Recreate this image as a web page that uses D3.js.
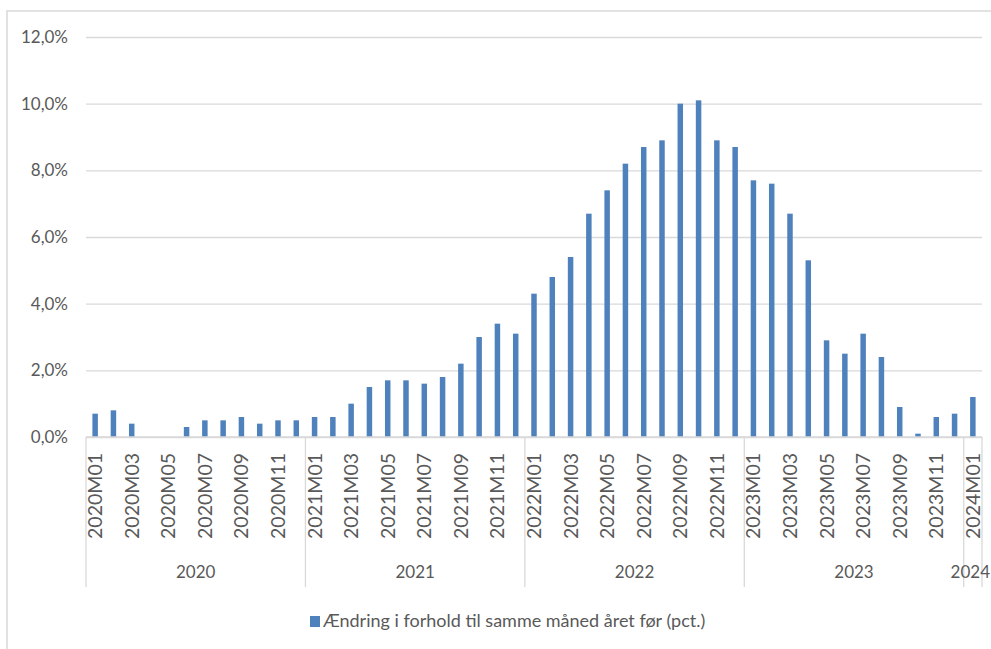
<!DOCTYPE html>
<html>
<head>
<meta charset="utf-8">
<script src="https://cdn.jsdelivr.net/npm/d3@7"></script>
<style>
  body { margin: 0; background: #fff; }
  svg { display: block; font-family: Lato, "Open Sans", sans-serif; }
</style>
</head>
<body>
<div id="vis"></div>
<script>
// frame
const FRAME_WIDTH = 991;
const FRAME_HEIGHT = 649;
const MARGINS = {left: 86, right: 9, top: 37, bottom: 212};

// data
const MONTHS = [
  "2020M01","2020M02","2020M03","2020M04","2020M05","2020M06","2020M07","2020M08","2020M09","2020M10","2020M11","2020M12",
  "2021M01","2021M02","2021M03","2021M04","2021M05","2021M06","2021M07","2021M08","2021M09","2021M10","2021M11","2021M12",
  "2022M01","2022M02","2022M03","2022M04","2022M05","2022M06","2022M07","2022M08","2022M09","2022M10","2022M11","2022M12",
  "2023M01","2023M02","2023M03","2023M04","2023M05","2023M06","2023M07","2023M08","2023M09","2023M10","2023M11","2023M12",
  "2024M01"
];
const VALUES = [
  0.7, 0.8, 0.4, 0.0, 0.0, 0.3, 0.5, 0.5, 0.6, 0.4, 0.5, 0.5,
  0.6, 0.6, 1.0, 1.5, 1.7, 1.7, 1.6, 1.8, 2.2, 3.0, 3.4, 3.1,
  4.3, 4.8, 5.4, 6.7, 7.4, 8.2, 8.7, 8.9, 10.0, 10.1, 8.9, 8.7,
  7.7, 7.6, 6.7, 5.3, 2.9, 2.5, 3.1, 2.4, 0.9, 0.1, 0.6, 0.7,
  1.2
];
const YEARS = ["2020", "2021", "2022", "2023", "2024"];
const Y_TICKS = [0, 2, 4, 6, 8, 10, 12];
const LEGEND_LABEL = "Ændring i forhold til samme måned året før (pct.)";

const data = MONTHS.map((m, i) => ({month: m, year: m.slice(0, 4), value: VALUES[i]}));

const svg = d3.select("#vis")
  .append("svg")
    .attr("width", FRAME_WIDTH)
    .attr("height", FRAME_HEIGHT);

const GRID = "#d9d9d9";
const TEXT = "#595959";
const BAR = "#4f81bd";

// outer chart border (cropped)
svg.append("path")
  .attr("d", `M7,${FRAME_HEIGHT} V11 H${FRAME_WIDTH}`)
  .attr("fill", "none")
  .attr("stroke", GRID)
  .attr("stroke-width", 1.5);

const x0 = MARGINS.left;
const x1 = FRAME_WIDTH - MARGINS.right;
const yBase = 437;

// scales
const xBand = d3.scaleBand()
  .domain(MONTHS)
  .range([x0, x1]);

const xBar = d3.scaleBand()
  .domain(MONTHS)
  .range([x0, x1])
  .paddingInner(0.7)
  .paddingOuter(0.35);

const yScale = d3.scaleLinear()
  .domain([0, 12])
  .range([yBase, MARGINS.top]);

// gridlines + y labels
const yAxis = d3.axisLeft(yScale)
  .tickValues(Y_TICKS)
  .tickSize(-(x1 - x0))
  .tickPadding(18)
  .tickFormat(d => d3.format(".1f")(d).replace(".", ",") + "%");

svg.append("g")
  .attr("transform", `translate(${x0}, 0)`)
  .call(yAxis)
  .call(g => g.select(".domain").remove())
  .call(g => g.selectAll(".tick line").attr("stroke", GRID).attr("stroke-width", 1.3))
  .call(g => g.selectAll(".tick text")
    .attr("fill", TEXT)
    .attr("font-size", 17)
    .attr("font-family", "Lato, sans-serif"));

// bars
svg.selectAll(".bar")
  .data(data)
  .enter()
  .append("rect")
    .attr("class", "bar")
    .attr("x", d => xBar(d.month))
    .attr("y", d => yScale(d.value))
    .attr("width", xBar.bandwidth())
    .attr("height", d => yBase - yScale(d.value))
    .attr("fill", BAR);

// category axis line
svg.append("line")
  .attr("x1", x0).attr("x2", x1)
  .attr("y1", yBase).attr("y2", yBase)
  .attr("stroke", GRID)
  .attr("stroke-width", 1.5);

// year separators
const sepX = YEARS.map(y => xBand(MONTHS.find(m => m.startsWith(y)))).concat([x1]);
svg.selectAll(".sep")
  .data(sepX)
  .enter()
  .append("line")
    .attr("x1", d => d).attr("x2", d => d)
    .attr("y1", yBase).attr("y2", 587)
    .attr("stroke", GRID)
    .attr("stroke-width", 1.3);

// month labels (every other month)
svg.selectAll(".mlab")
  .data(data.filter((d, i) => i % 2 === 0))
  .enter()
  .append("text")
    .attr("transform", d => `translate(${xBand(d.month) + xBand.bandwidth() / 2}, 453) rotate(-90)`)
    .attr("text-anchor", "end")
    .attr("dy", "0.36em")
    .attr("fill", TEXT)
    .attr("font-size", 19.5)
    .text(d => d.month);

// year labels (the last one is pushed left so it stays inside the frame)
svg.selectAll(".ylab")
  .data(YEARS)
  .enter()
  .append("text")
    .attr("x", (d, i) => (sepX[i] + sepX[i + 1]) / 2)
    .attr("y", 578)
    .attr("text-anchor", "middle")
    .attr("fill", TEXT)
    .attr("font-size", 17)
    .text(d => d)
    .each(function() {
      const w = this.getComputedTextLength();
      const cx = +this.getAttribute("x");
      if (cx + w / 2 > FRAME_WIDTH - 1) this.setAttribute("x", FRAME_WIDTH - 1 - w / 2);
    });

// legend
const legend = svg.append("g").attr("transform", "translate(310, 616)");
legend.append("rect")
  .attr("width", 10).attr("height", 11)
  .attr("fill", BAR);
legend.append("text")
  .attr("x", 13)
  .attr("y", 10.5)
  .attr("fill", TEXT)
  .attr("font-size", 18)
  .text(LEGEND_LABEL);
</script>
</body>
</html>
